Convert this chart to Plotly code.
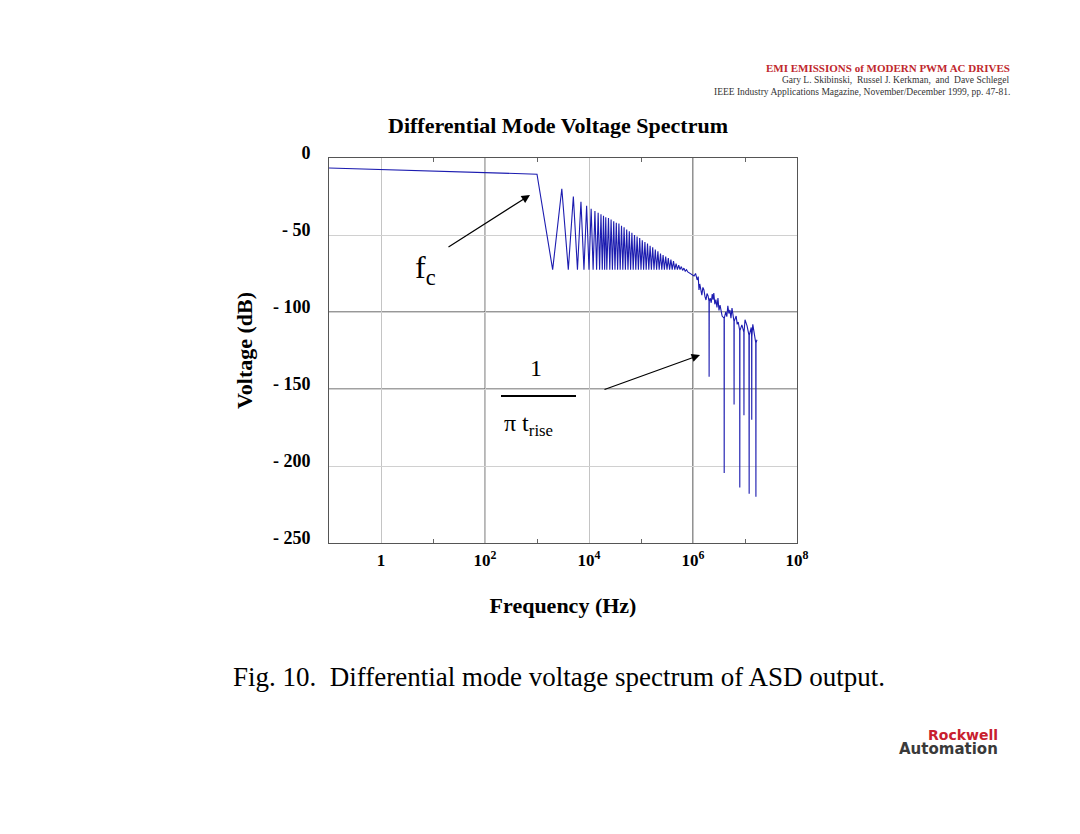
import plotly.graph_objects as go

# 平坦段 (低于 fc)
flat_freq = [0.1, 1, 10, 100, 1000]
flat_db = [-6.5, -7.5, -8.5, -9.5, -10.5]

# 梳状谐波段: 峰值与谷值交替
comb_freq = [2000, 3000, 4000, 5000, 6000, 7000, 8000, 9000, 10000, 11000,
             12000, 13000, 14000, 15000, 16000, 17000, 18000, 19000, 20000, 21000,
             22000, 23700, 25100, 26600, 28200, 29900, 31600, 33500, 35500, 37600,
             39800, 42200, 44700, 47300, 50100, 53100, 56200, 59600, 63100, 66800,
             70800, 75000, 79400, 84100, 89100, 94400, 100000, 105900, 112200, 118900,
             125900, 133400, 141300, 149600, 158500, 167900, 177800, 188400, 199500, 211300,
             223900, 237100, 251200, 266100, 281800, 298500, 316200, 335000, 354800, 375800,
             398100, 421700, 446700, 473200, 501200, 530900, 562300, 595700, 631000, 668300,
             708000, 749900, 794300]
comb_db = [-72.5, -20, -72.5, -25, -72.5, -28.5, -72.5, -31, -72.5, -33,
           -72.5, -34.5, -72.5, -35.5, -72.5, -36.5, -72.5, -37.5, -72.5, -38.5,
           -72.5, -39, -72.5, -40, -72.5, -41, -72.5, -42, -72.5, -42.5,
           -72.5, -44, -72.5, -45, -72.5, -46.5, -72.5, -47.5, -72.5, -48.5,
           -72.5, -50, -72.5, -51, -72.5, -52, -72.5, -53.5, -72.5, -54.5,
           -72.5, -55.5, -72.5, -57, -72.5, -58, -72.5, -59.5, -72.5, -60.5,
           -72.5, -62, -72.5, -63, -72.5, -64, -72.5, -65, -72.5, -66,
           -72.5, -67, -72.5, -68.5, -72.5, -69.5, -72.5, -70.5, -73, -71.5,
           -73.5, -72.5, -74]

# 高频滚降段 (1/(pi t_rise) 之后)
rolloff_freq = [1.047e6, 1.12e6, 1.202e6, 1.26e6, 1.303e6, 1.349e6, 1.41e6, 1.479e6,
                1.55e6, 1.622e6, 1.70e6, 1.778e6, 1.86e6, 1.95e6, 2.03e6, 2.042e6,
                2.055e6, 2.138e6, 2.24e6, 2.344e6, 2.43e6, 2.512e6, 2.63e6, 2.754e6,
                2.89e6, 3.02e6, 3.16e6, 3.311e6, 3.47e6, 3.631e6, 3.96e6, 3.981e6,
                4.0e6, 4.266e6, 4.47e6, 4.677e6, 4.9e6, 5.129e6, 5.37e6, 5.623e6,
                6.13e6, 6.166e6, 6.20e6, 6.761e6, 7.08e6, 7.413e6, 7.90e6, 7.943e6,
                7.99e6, 8.71e6, 9.50e6, 9.55e6, 9.60e6, 1.0e7, 1.096e7, 1.19e7,
                1.202e7, 1.21e7, 1.318e7, 1.34e7, 1.349e7, 1.355e7, 1.413e7, 1.549e7,
                1.61e7, 1.622e7, 1.63e7, 1.698e7]
rolloff_db = [-76.6, -75, -79.2, -77, -85.7, -81.8, -86, -89,
              -84, -85.7, -90, -92.2, -88, -89.6, -93, -142,
              -93, -91, -94, -88.3, -92, -87.7, -95, -92,
              -97, -90.9, -99, -95.5, -101, -102.6, -104, -204.5,
              -104, -100, -103, -96, -101, -98.7, -104, -97.4,
              -106, -160, -106, -102.6, -108, -106.5, -112, -214,
              -112, -108.4, -113, -167, -113, -105, -109, -115,
              -218, -115, -110, -116, -170, -116, -108, -115,
              -120, -220, -120, -118]

# 坐标轴刻度
x_tickvals = [1, 1e2, 1e4, 1e6, 1e8]
x_ticktext = ['<b>1</b>', '<b>10<sup>2</sup></b>', '<b>10<sup>4</sup></b>',
              '<b>10<sup>6</sup></b>', '<b>10<sup>8</sup></b>']
x_minor = [10, 1e3, 1e5, 1e7]
y_tickvals = [0, -50, -100, -150, -200, -250]
y_ticktext = ['<b>0</b>', '<b>- 50</b>', '<b>- 100</b>', '<b>- 150</b>', '<b>- 200</b>', '<b>- 250</b>']

# 页面 body 默认有 8px 外边距, 像素位置按此修正
OFF = 8
W, H = 1080, 834
L, R, T, B = 329 - OFF, 797 - OFF, 158 - OFF, 543 - OFF


def px(x):
    return (x - OFF - L) / (R - L)


def py(y):
    return (B - (y - OFF)) / (B - T)


serif = 'Liberation Serif, Times New Roman, serif'
sans = 'DejaVu Sans, Arial, sans-serif'

fig = go.Figure()

fig.add_trace(go.Scatter(
    x=flat_freq + comb_freq + rolloff_freq,
    y=flat_db + comb_db + rolloff_db,
    mode='lines',
    line=dict(color='#1c1cb0', width=1.1),
    showlegend=False,
))

# 深色网格线与分数线
shapes = [dict(type='line', xref='x', yref='paper', x0=1e2, x1=1e2, y0=0, y1=1,
               line=dict(color='#6a6a6a', width=1), layer='below'),
          dict(type='line', xref='x', yref='paper', x0=1e6, x1=1e6, y0=0, y1=1,
               line=dict(color='#4a4a4a', width=1.2), layer='below'),
          dict(type='line', xref='paper', yref='y', x0=0, x1=1, y0=-100, y1=-100,
               line=dict(color='#333333', width=1.2), layer='below'),
          dict(type='line', xref='paper', yref='y', x0=0, x1=1, y0=-150, y1=-150,
               line=dict(color='#444444', width=1.2), layer='below'),
          dict(type='line', xref='paper', yref='paper', x0=px(501), x1=px(576),
               y0=py(396), y1=py(396), line=dict(color='black', width=2))]

annotations = [
    # 页眉
    dict(text='<b>EMI EMISSIONS of MODERN PWM AC DRIVES</b>', x=px(1012), y=py(68),
         xanchor='right', font=dict(family=serif, size=11, color='#c0282d')),
    dict(text='Gary L. Skibinski,  Russel J. Kerkman,  and  Dave Schlegel', x=px(1012), y=py(80),
         xanchor='right', font=dict(family=serif, size=9.5, color='#333333')),
    dict(text='IEEE Industry Applications Magazine, November/December 1999, pp. 47-81.',
         x=px(1012), y=py(92), xanchor='right', font=dict(family=serif, size=9.5, color='#333333')),
    # f_c 标注
    dict(text='f<sub>c</sub>', x=px(413), y=py(269), xanchor='left',
         font=dict(family=serif, size=32, color='black')),
    dict(text='', x=px(530), y=py(195), ax=-83, ay=53, showarrow=True,
         arrowhead=2, arrowsize=1.4, arrowwidth=1.2, arrowcolor='black'),
    # 1/(pi t_rise) 标注
    dict(text='1', x=px(536), y=py(368), font=dict(family=serif, size=24, color='black')),
    dict(text='π t<sub>rise</sub>', x=px(502), y=py(425), xanchor='left',
         font=dict(family=serif, size=24, color='black')),
    dict(text='', x=px(700), y=py(355), ax=-97, ay=35, showarrow=True,
         arrowhead=2, arrowsize=1.4, arrowwidth=1.2, arrowcolor='black'),
    # 图注
    dict(text='Fig. 10.  Differential mode voltage spectrum of ASD output.', x=px(559), y=py(677),
         font=dict(family=serif, size=27, color='black')),
    # 标志
    dict(text='<b>Rockwell</b>', x=px(1000), y=py(735), xanchor='right',
         font=dict(family=sans, size=14, color='#c8202e')),
    dict(text='<b>Automation</b>', x=px(1000), y=py(749), xanchor='right',
         font=dict(family=sans, size=15, color='#3a3a3a')),
]
for a in annotations:
    a.setdefault('xref', 'paper')
    a.setdefault('yref', 'paper')
    a.setdefault('xanchor', 'center')
    a.setdefault('yanchor', 'middle')
    a.setdefault('showarrow', False)

fig.update_layout(
    width=W,
    height=H,
    margin=dict(l=L, r=W - R, t=T, b=H - B),
    paper_bgcolor='white',
    plot_bgcolor='white',
    title=dict(text='<b>Differential Mode Voltage Spectrum</b>', x=(558 - OFF) / W, xanchor='center',
               y=1 - (125 - OFF) / H, yanchor='middle', font=dict(family=serif, size=22, color='black')),
    xaxis=dict(
        type='log', range=[-1, 8],
        tickmode='array', tickvals=x_tickvals, ticktext=x_ticktext,
        tickfont=dict(family=serif, size=17, color='black'),
        ticks='', ticklabelstandoff=2,
        showgrid=True, gridcolor='#c4c4c4', gridwidth=1,
        minor=dict(tickvals=x_minor, ticks='inside', ticklen=4, tickcolor='#666666', showgrid=False),
        showline=True, linecolor='#555555', linewidth=1, mirror='ticks',
        zeroline=False,
        title=dict(text='<b>Frequency (Hz)</b>', standoff=28,
                   font=dict(family=serif, size=22, color='black')),
    ),
    yaxis=dict(
        range=[-250, 0],
        tickmode='array', tickvals=y_tickvals, ticktext=y_ticktext,
        tickfont=dict(family=serif, size=18, color='black'),
        ticks='', ticklabelstandoff=14, ticklabelshift=-5,
        showgrid=True, gridcolor='#d0d0d0', gridwidth=1,
        showline=True, linecolor='#555555', linewidth=1, mirror=True,
        zeroline=False,
        title=dict(text='<b>Voltage (dB)</b>', standoff=14,
                   font=dict(family=serif, size=22, color='black')),
    ),
    shapes=shapes,
    annotations=annotations,
)

fig.write_html("out.html")
